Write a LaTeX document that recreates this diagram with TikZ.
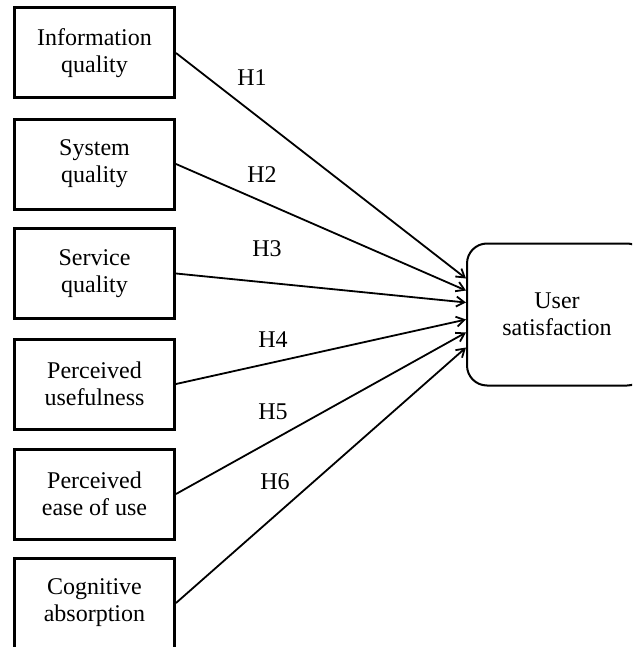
\documentclass[tikz,border=0pt]{standalone}
\usepackage{fontspec}
\setmainfont{Liberation Serif}
\usetikzlibrary{calc, arrows.meta, positioning}

\begin{document}
\begin{tikzpicture}[x=0.5pt, y=-0.5pt, >={Straight Barb[length=4pt,width=5pt]}]
				\tikzstyle{factor} = [draw=black, line width=1.5pt, rectangle, minimum width=80pt, minimum height=45pt, align=center, font=\fontsize{12}{13.5}\selectfont]
				\tikzstyle{outcome} = [draw=black, line width=1pt, rectangle, rounded corners=10pt, minimum width=90pt, minimum height=71pt, align=center, font=\fontsize{12}{13.5}\selectfont]
				\tikzstyle{invis} = [draw=none, font=\fontsize{12}{13.5}\selectfont]
				
				\useasboundingbox (0, 0) rectangle (632, 647);
				\clip (0, 0) rectangle (632, 647);
				
				\node[factor] 	at (94.5, 53) 		(iq) 	{Information\\quality};
				\node[factor] 	at (94.5, 164) 		(sq) 	{System\\quality};
				\node[factor] 	at (94.5, 273.5) 	(svq) 	{Service\\quality};
				\node[factor] 	at (94.5, 384) 		(pu) 	{Perceived\\usefulness};
				\node[factor] 	at (94.5, 494) 		(peou) 	{Perceived\\ease of use};
				\node[factor] 	at (94.5, 603) 		(ca) 	{Cognitive\\absorption};
				\node[outcome] 	at (557, 314.5) 	(us) 	{User\\satisfaction};
				
				\node[invis]	at (252, 78)		(h1)	{H1};
				\node[invis]	at (262, 175)		(h2)	{H2};
				\node[invis]	at (267, 249)		(h3)	{H3};
				\node[invis]	at (273, 340)		(h4)	{H4};
				\node[invis]	at (273, 412)		(h5)	{H5};
				\node[invis]	at (275, 482)		(h6)	{H6};
				
				\path[->, line width=0.9pt]
				(iq.east)	edge	([yshift=18pt]us.west)
				(sq.east)	edge	([yshift=12pt]us.west)
				(svq.east)	edge	([yshift=6pt]us.west)
				(pu.east)	edge	([yshift=-2.5pt]us.west)
				(peou.east)	edge	([yshift=-9pt]us.west)
				(ca.east)	edge	([yshift=-16.5pt]us.west);
\end{tikzpicture}
\end{document}
